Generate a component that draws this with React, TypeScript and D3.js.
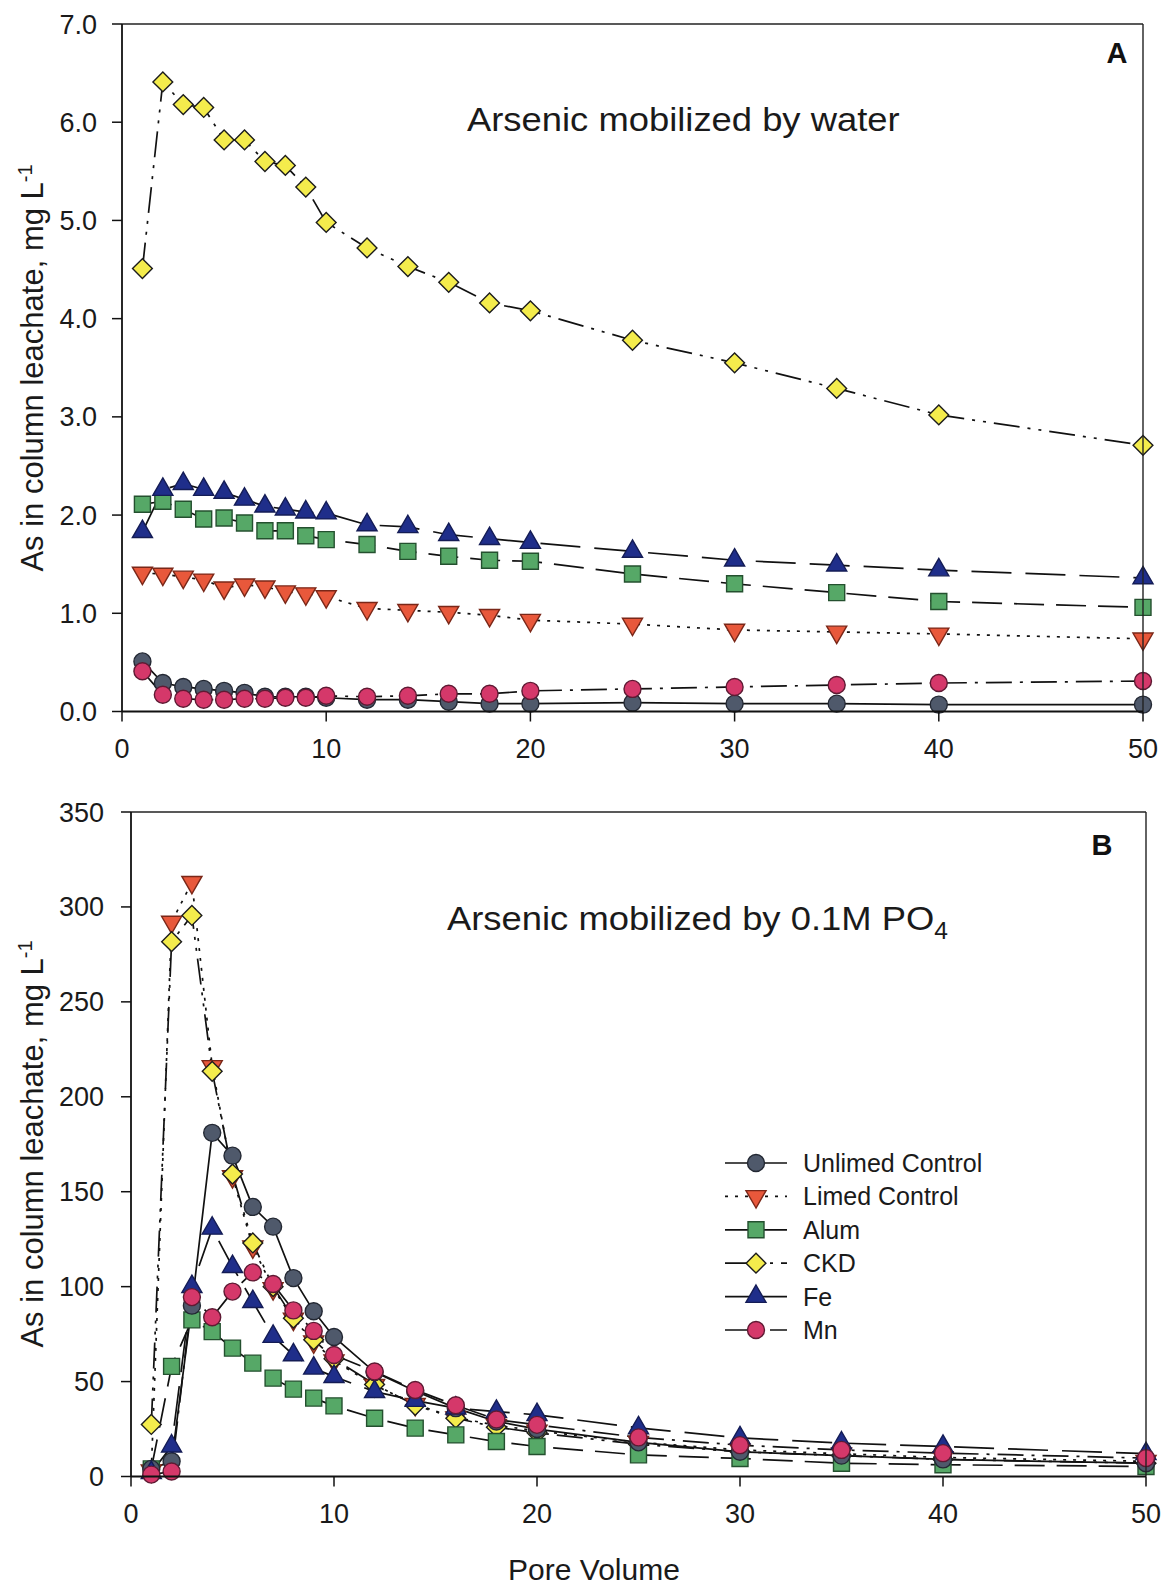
import React from 'react';
import * as d3 from 'd3';

// ---------- DATA ----------
const poreVolumes = [1, 2, 3, 4, 5, 6, 7, 8, 9, 10, 12, 14, 16, 18, 20, 25, 30, 35, 40, 50];

const seriesNames = ['Unlimed Control', 'Limed Control', 'Alum', 'CKD', 'Fe', 'Mn'];

// Panel A: Arsenic mobilized by water (mg/L)
const waterUnlimed = [0.51, 0.29, 0.25, 0.23, 0.21, 0.19, 0.15, 0.15, 0.15, 0.14, 0.12, 0.12, 0.10, 0.08, 0.08, 0.09, 0.08, 0.08, 0.07, 0.07];
const waterLimed = [1.41, 1.40, 1.37, 1.34, 1.26, 1.29, 1.27, 1.22, 1.20, 1.17, 1.05, 1.03, 1.01, 0.98, 0.93, 0.89, 0.83, 0.81, 0.79, 0.74];
const waterAlum = [2.11, 2.14, 2.06, 1.96, 1.97, 1.92, 1.84, 1.84, 1.79, 1.75, 1.70, 1.63, 1.58, 1.54, 1.53, 1.40, 1.30, 1.21, 1.12, 1.06];
const waterCKD = [4.51, 6.41, 6.18, 6.15, 5.82, 5.82, 5.60, 5.56, 5.34, 4.98, 4.72, 4.53, 4.37, 4.16, 4.08, 3.78, 3.55, 3.29, 3.02, 2.71];
const waterFe = [1.83, 2.26, 2.32, 2.26, 2.23, 2.16, 2.09, 2.06, 2.03, 2.02, 1.90, 1.88, 1.80, 1.76, 1.72, 1.63, 1.54, 1.49, 1.44, 1.36];
const waterMn = [0.41, 0.17, 0.13, 0.12, 0.12, 0.13, 0.13, 0.14, 0.14, 0.16, 0.15, 0.16, 0.18, 0.18, 0.21, 0.23, 0.25, 0.27, 0.29, 0.31];

// Panel B: Arsenic mobilized by 0.1M PO4 (mg/L)
const phosUnlimed = [4, 8, 90, 181, 169, 142, 131.6, 104.5, 87, 73.5, 55, 45, 36, 29, 25, 18, 13, 11, 9, 7];
const phosLimed = [3, 292, 313, 216, 158, 121, 99, 83, 71, 61, 48, 38, 31, 27, 24, 18, 14, 12, 10, 8];
const phosAlum = [4, 58, 82.5, 76.3, 67.6, 59.7, 51.8, 46, 41.3, 37.2, 30.7, 25.5, 21.9, 18.4, 15.8, 11.4, 9.5, 7, 6.2, 5.3];
const phosCKD = [27.4, 281.7, 295.5, 213.4, 159.3, 123, 100, 83.4, 72, 62, 48.5, 37.5, 30.7, 26, 23, 17, 13, 11, 9, 7];
const phosFe = [2, 16, 100, 130.7, 110.5, 92.1, 73.7, 64, 57, 52.6, 44.7, 40, 36, 34.2, 32.5, 25.6, 20.3, 17.6, 15.8, 12];
const phosMn = [1, 2.6, 94.5, 83.9, 97.4, 107.5, 101.4, 87.5, 76.7, 64, 55.3, 45.6, 37.5, 30, 27.2, 20.6, 16.5, 14, 12.3, 9.7];

const xTicks = [0, 10, 20, 30, 40, 50];
const yTicksA = [0, 1, 2, 3, 4, 5, 6, 7];
const yTicksB = [0, 50, 100, 150, 200, 250, 300, 350];

// ---------- STYLES ----------
const FONT = "'Liberation Sans', Arial, Helvetica, sans-serif";

type SeriesStyle = { fill: string; stroke: string; shape: string; dash: string; legendOffset: number };
const styleByName: Record<string, SeriesStyle> = {
  'Unlimed Control': { fill: '#4f596b', stroke: '#232833', shape: 'circle', dash: 'none', legendOffset: 0 },
  'Limed Control': { fill: '#e8583b', stroke: '#7a2718', shape: 'triDown', dash: '3,7', legendOffset: 0 },
  'Alum': { fill: '#56a867', stroke: '#24502f', shape: 'square', dash: '30,12', legendOffset: 6 },
  'CKD': { fill: '#f4ec4c', stroke: '#1c1c1c', shape: 'diamond', dash: '26,8,3,8,3,8', legendOffset: 0 },
  'Fe': { fill: '#1f2e8a', stroke: '#141c55', shape: 'triUp', dash: '40,14', legendOffset: 16 },
  'Mn': { fill: '#d5386a', stroke: '#5e1a33', shape: 'circle', dash: '26,8,3,8', legendOffset: 0 },
};

// drawing order of markers (later on top)
const markerOrder = ['Limed Control', 'CKD', 'Alum', 'Unlimed Control', 'Fe', 'Mn'];

function markerPath(shape: string): { d: string; rot: number } {
  const sym = d3.symbol();
  switch (shape) {
    case 'circle':
      return { d: sym.type(d3.symbolCircle).size(Math.PI * 8.5 * 8.5)() as string, rot: 0 };
    case 'square':
      return { d: sym.type(d3.symbolSquare).size(16 * 16)() as string, rot: 0 };
    case 'diamond':
      return { d: sym.type(d3.symbolSquare).size(14 * 14)() as string, rot: 45 };
    case 'triUp':
      return { d: sym.type(d3.symbolTriangle).size(175)() as string, rot: 0 };
    case 'triDown':
      return { d: sym.type(d3.symbolTriangle).size(175)() as string, rot: 180 };
    default:
      return { d: sym.type(d3.symbolCircle).size(200)() as string, rot: 0 };
  }
}

type PanelProps = {
  xRange: [number, number];
  yRange: [number, number];
  yMax: number;
  yTicks: number[];
  yFmt: (v: number) => string;
  yLabelGap: number;
  values: Record<string, number[]>;
  title: React.ReactNode;
  titleX: number;
  titleY: number;
  letter: string;
  letterX: number;
  letterY: number;
  labelCenterY: number;
  legend?: boolean;
};

function Panel(p: PanelProps) {
  const x = d3.scaleLinear().domain([0, 50]).range(p.xRange);
  const y = d3.scaleLinear().domain([0, p.yMax]).range(p.yRange);
  const [x0, x1] = p.xRange;
  const [yb, yt] = p.yRange;
  const line = d3
    .line<[number, number]>()
    .x((d) => x(d[0]))
    .y((d) => y(d[1]));

  return (
    <g fontFamily={FONT}>
      {/* lines */}
      {seriesNames.map((name) => {
        const st = styleByName[name];
        const pts = poreVolumes.map((pv, i) => [pv, p.values[name][i]] as [number, number]);
        return (
          <path
            key={'l' + name}
            d={line(pts) as string}
            fill="none"
            stroke="#111"
            strokeWidth={1.7}
            strokeDasharray={st.dash}
          />
        );
      })}
      {/* markers */}
      {markerOrder.map((name) => {
        const st = styleByName[name];
        const m = markerPath(st.shape);
        return (
          <g key={'m' + name}>
            {poreVolumes.map((pv, i) => (
              <path
                key={i}
                d={m.d}
                transform={`translate(${x(pv)},${y(p.values[name][i])}) rotate(${m.rot})`}
                fill={st.fill}
                stroke={st.stroke}
                strokeWidth={1.4}
              />
            ))}
          </g>
        );
      })}
      {/* frame */}
      <line x1={x0} x2={x1} y1={yt} y2={yt} stroke="#222" strokeWidth={1.4} />
      <line x1={x1} x2={x1} y1={yt} y2={yb} stroke="#222" strokeWidth={1.4} />
      <line x1={x0} x2={x0} y1={yt} y2={yb} stroke="#111" strokeWidth={1.8} />
      <line x1={x0} x2={x1} y1={yb} y2={yb} stroke="#111" strokeWidth={1.8} />
      {/* y ticks */}
      {p.yTicks.map((t) => (
        <g key={'yt' + t}>
          <line x1={x0 - 10} x2={x0} y1={y(t)} y2={y(t)} stroke="#111" strokeWidth={1.5} />
          <text x={x0 - p.yLabelGap} y={y(t) + 9.5} textAnchor="end" fontSize={27} fill="#1a1a1a">
            {p.yFmt(t)}
          </text>
        </g>
      ))}
      {/* x ticks */}
      {xTicks.map((t) => (
        <g key={'xt' + t}>
          <line x1={x(t)} x2={x(t)} y1={yb} y2={yb + 10} stroke="#111" strokeWidth={1.5} />
          <text x={x(t)} y={yb + 46} textAnchor="middle" fontSize={27} fill="#1a1a1a">
            {t}
          </text>
        </g>
      ))}
      {/* y label */}
      <text
        transform={`translate(43,${p.labelCenterY}) rotate(-90)`}
        textAnchor="middle"
        fontSize={31}
        fill="#1a1a1a"
      >
        As in column leachate, mg L
        <tspan dy={-11} fontSize={20}>-1</tspan>
      </text>
      {/* title */}
      <g transform={`translate(${p.titleX},${p.titleY}) scale(1.07,1)`}>
        <text x={0} y={0} fontSize={34} fill="#1a1a1a">
          {p.title}
        </text>
      </g>
      <text x={p.letterX} y={p.letterY} textAnchor="middle" fontSize={29} fontWeight="bold" fill="#111">
        {p.letter}
      </text>
      {p.legend && <Legend />}
    </g>
  );
}

function Legend() {
  const rowY = d3.scalePoint<string>().domain(seriesNames).range([1163, 1330]);
  const lx0 = 725;
  const lx1 = 787;
  const sx = 756;
  const tx = 803;
  return (
    <g>
      {seriesNames.map((name) => {
        const st = styleByName[name];
        const m = markerPath(st.shape);
        const yy = rowY(name) as number;
        return (
          <g key={'lg' + name}>
            <line
              x1={lx0}
              x2={lx1}
              y1={yy}
              y2={yy}
              stroke="#111"
              strokeWidth={1.7}
              strokeDasharray={st.dash}
              strokeDashoffset={st.legendOffset}
            />
            <path
              d={m.d}
              transform={`translate(${sx},${yy}) rotate(${m.rot})`}
              fill={st.fill}
              stroke={st.stroke}
              strokeWidth={1.4}
            />
            <text x={tx} y={yy + 9} fontSize={25} fill="#1a1a1a">
              {name}
            </text>
          </g>
        );
      })}
    </g>
  );
}

export default function App() {
  const waterValues: Record<string, number[]> = {
    'Unlimed Control': waterUnlimed,
    'Limed Control': waterLimed,
    'Alum': waterAlum,
    'CKD': waterCKD,
    'Fe': waterFe,
    'Mn': waterMn,
  };
  const phosValues: Record<string, number[]> = {
    'Unlimed Control': phosUnlimed,
    'Limed Control': phosLimed,
    'Alum': phosAlum,
    'CKD': phosCKD,
    'Fe': phosFe,
    'Mn': phosMn,
  };
  const fmt1 = d3.format('.1f');
  const fmt0 = d3.format('d');
  return (
    <svg
      width={1164}
      height={1593}
      viewBox="0 0 1164 1593"
      style={{ position: 'absolute', left: 0, top: 0, background: '#fff' }}
    >
      <rect x={0} y={0} width={1164} height={1593} fill="#fff" />
      <Panel
        xRange={[122, 1143]}
        yRange={[711.5, 24]}
        yMax={7}
        yTicks={yTicksA}
        yFmt={fmt1}
        yLabelGap={25}
        values={waterValues}
        title={'Arsenic mobilized by water'}
        titleX={467}
        titleY={131}
        letter="A"
        letterX={1117}
        letterY={63}
        labelCenterY={368}
      />
      <Panel
        xRange={[131, 1146]}
        yRange={[1476.5, 812]}
        yMax={350}
        yTicks={yTicksB}
        yFmt={fmt0}
        yLabelGap={27}
        values={phosValues}
        title={
          <>
            Arsenic mobilized by 0.1M PO
            <tspan dy={9} fontSize={23}>4</tspan>
          </>
        }
        titleX={447}
        titleY={930}
        letter="B"
        letterX={1102}
        letterY={855}
        labelCenterY={1144}
        legend
      />
      <text x={594} y={1580} textAnchor="middle" fontSize={30} fontFamily={FONT} fill="#1a1a1a">
        Pore Volume
      </text>
    </svg>
  );
}
